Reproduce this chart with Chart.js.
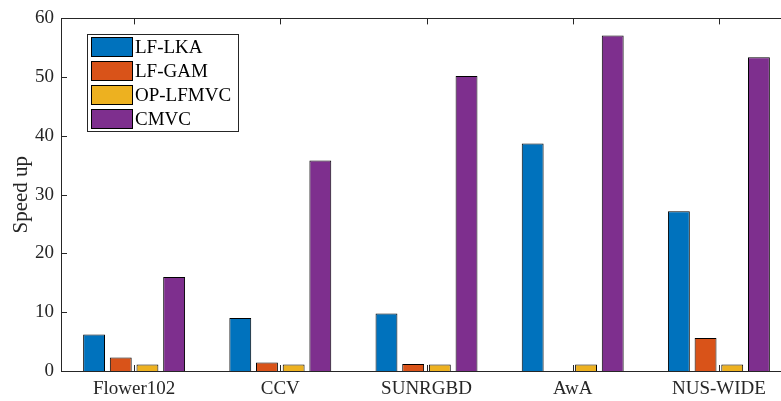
<!DOCTYPE html>
<html>
<head>
<meta charset="utf-8">
<script src="https://cdn.jsdelivr.net/npm/chart.js@4.4.0/dist/chart.umd.min.js"></script>
<style>
html,body{margin:0;padding:0;background:#fff;overflow:hidden;width:781px;height:401px;}
canvas{display:block;}
</style>
</head>
<body>
<canvas id="c" width="800" height="401"></canvas>
<script>
const categories = ["Flower102", "CCV", "SUNRGBD", "AwA", "NUS-WIDE"];
const lfLka   = [6.2, 9.0, 9.8, 38.7, 27.2];
const lfGam   = [2.3, 1.45, 1.2, 0, 5.6];
const opLfmvc = [1.1, 1.1, 1.1, 1.1, 1.1];
const cmvc    = [16.0, 35.8, 50.2, 57.1, 53.4];
const yTicks  = [0, 10, 20, 30, 40, 50, 60];

const seriesNames = ["LF-LKA", "LF-GAM", "OP-LFMVC", "CMVC"];
const seriesColors = ["#0072BD", "#D95319", "#EDB120", "#7E2F8E"];
const seriesData = [lfLka, lfGam, opLfmvc, cmvc];

const FONT = "'Liberation Serif', 'Times New Roman', Tinos, serif";
const AX = "#262626";

const frame = {
  id: 'frame',
  afterDatasetsDraw(chart) {
    const {ctx, chartArea: a, scales: {x, y}} = chart;
    ctx.save();
    ctx.strokeStyle = AX;
    ctx.lineWidth = 1;
    ctx.beginPath();
    ctx.rect(Math.round(a.left) + 0.5, Math.round(a.top) + 0.5, Math.round(a.right - a.left), Math.round(a.bottom - a.top));
    ctx.stroke();
    ctx.beginPath();
    yTicks.forEach(v => {
      const py = Math.round(y.getPixelForValue(v)) + 0.5;
      ctx.moveTo(a.left, py); ctx.lineTo(a.left + 6, py);
      ctx.moveTo(a.right, py); ctx.lineTo(a.right - 6, py);
    });
    categories.forEach((c, i) => {
      const px = Math.round(x.getPixelForValue(i)) + 0.5;
      ctx.moveTo(px, a.top); ctx.lineTo(px, a.top + 6);
      ctx.moveTo(px, a.bottom); ctx.lineTo(px, a.bottom - 6);
    });
    ctx.stroke();

    // legend
    const lx = 87, ly = 34, lw = 151, lh = 97;
    ctx.fillStyle = '#fff';
    ctx.fillRect(lx, ly, lw, lh);
    ctx.strokeStyle = AX;
    ctx.strokeRect(lx + 0.5, ly + 0.5, lw, lh);
    ctx.font = "19px " + FONT;
    ctx.textBaseline = 'middle';
    ctx.textAlign = 'left';
    chart.data.datasets.forEach((ds, i) => {
      const cy = ly + 13 + i * 24;
      ctx.fillStyle = ds.backgroundColor;
      ctx.fillRect(lx + 4, cy - 10, 42, 20);
      ctx.strokeStyle = '#000';
      ctx.strokeRect(lx + 4.5, cy - 9.5, 41, 19);
      ctx.fillStyle = '#000';
      ctx.fillText(ds.label, lx + 48, cy + 1);
    });
    ctx.restore();
  }
};

function build() {
  new Chart(document.getElementById('c'), {
    type: 'bar',
    data: {
      labels: categories,
      datasets: seriesNames.map((n, i) => ({
        label: n,
        data: seriesData[i],
        backgroundColor: seriesColors[i],
        borderColor: '#000',
        borderWidth: 1,
        borderSkipped: 'bottom',
        categoryPercentage: 0.73,
        barPercentage: 0.82
      }))
    },
    options: {
      responsive: false,
      animation: false,
      layout: {padding: {left: 0, top: 14, right: 8, bottom: 0}},
      plugins: {legend: {display: false}, tooltip: {enabled: false}},
      scales: {
        x: {
          grid: {display: false, drawTicks: false},
          border: {display: false},
          ticks: {color: AX, font: {family: FONT, size: 19}, padding: 7},
          afterFit(s) { s.height = 30; }
        },
        y: {
          min: 0, max: 60,
          afterBuildTicks(s) { s.ticks = yTicks.map(v => ({value: v})); },
          grid: {display: false, drawTicks: false},
          border: {display: false},
          ticks: {color: AX, font: {family: FONT, size: 19}, padding: 7},
          title: {display: true, text: 'Speed up', color: AX, font: {family: FONT, size: 21}, padding: {top: 9, bottom: 0}},
          afterFit(s) { s.width = 61; }
        }
      }
    },
    plugins: [frame]
  });
}
if (document.fonts && document.fonts.load) {
  document.fonts.load("19px 'Liberation Serif'").then(build, build);
} else { build(); }
</script>
</body>
</html>
